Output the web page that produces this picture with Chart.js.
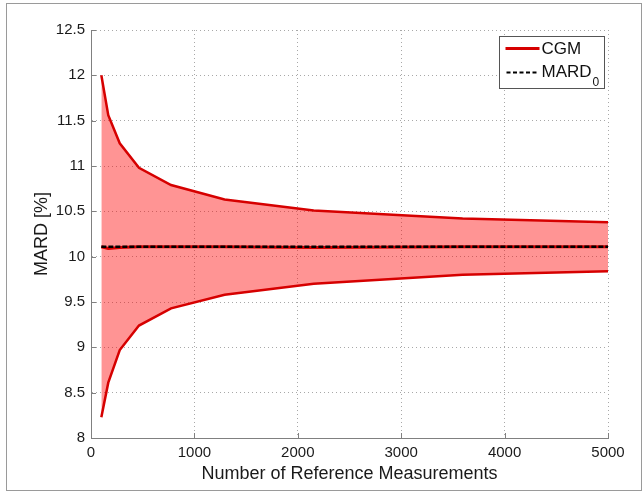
<!DOCTYPE html>
<html>
<head>
<meta charset="utf-8">
<style>
  html, body { margin: 0; padding: 0; background: #ffffff; }
  #wrap { width: 644px; height: 494px; position: relative; }
</style>
<script src="https://cdn.jsdelivr.net/npm/chart.js@4/dist/chart.umd.min.js"></script>
</head>
<body>
<div id="wrap"><canvas id="c" width="644" height="494"></canvas></div>
<script>
// Number of reference measurements at which MARD was evaluated
const nMeasurements = [100, 167, 278, 464, 774, 1292, 2154, 3594, 5000];
// Upper and lower bounds of the CGM MARD band [%]
const cgmUpper = [12.00, 11.56, 11.25, 10.98, 10.79, 10.63, 10.51, 10.42, 10.38];
const cgmLower = [8.23, 8.61, 8.97, 9.24, 9.43, 9.58, 9.70, 9.80, 9.84];
// Mean CGM MARD [%]
const cgmMean = [10.11, 10.09, 10.10, 10.11, 10.11, 10.11, 10.10, 10.11, 10.11];
// True MARD_0 [%]
const mard0 = [10.11, 10.11, 10.11, 10.11, 10.11, 10.11, 10.11, 10.11, 10.11];

// Axis ticks
const xTicks = [0, 1000, 2000, 3000, 4000, 5000];
const yTicks = [8, 8.5, 9, 9.5, 10, 10.5, 11, 11.5, 12, 12.5];

const FONT = '"Liberation Sans", Arial, Helvetica, sans-serif';
const RED = 'rgb(214,0,0)';
const BAND = 'rgba(255,0,0,0.42)';
const AXIS = '#808080';
const GRID = '#a8a8a8';

const pts = (ys) => nMeasurements.map((x, i) => ({ x: x, y: ys[i] }));

// Ticks drawn on the inside of the axes, plus the outer frame
const framePlugin = {
  id: 'frameAndTicks',
  afterDraw(chart) {
    const ctx = chart.ctx;
    const xs = chart.scales.x, ys = chart.scales.y;
    const area = chart.chartArea;
    ctx.save();
    ctx.strokeStyle = AXIS;
    ctx.lineWidth = 1;
    ctx.beginPath();
    xs.ticks.forEach(t => {
      const px = Math.round(xs.getPixelForValue(t.value)) + 0.5;
      ctx.moveTo(px, area.bottom);
      ctx.lineTo(px, area.bottom - 5);
    });
    ys.ticks.forEach(t => {
      const py = Math.round(ys.getPixelForValue(t.value)) + 0.5;
      ctx.moveTo(area.left, py);
      ctx.lineTo(area.left + 5, py);
    });
    ctx.stroke();
    // outer frame
    ctx.strokeStyle = '#9a9a9a';
    ctx.strokeRect(6.5, 3.5, 635, 487);
    ctx.restore();
  }
};

// Boxed legend in the upper right corner of the plot
const legendPlugin = {
  id: 'boxLegend',
  afterDraw(chart) {
    const ctx = chart.ctx;
    const area = chart.chartArea;
    const bx = Math.round(area.right) - 108.5, by = 36.5, bw = 105, bh = 52;
    ctx.save();
    ctx.fillStyle = '#ffffff';
    ctx.fillRect(bx, by, bw, bh);
    ctx.strokeStyle = '#555555';
    ctx.lineWidth = 1;
    ctx.strokeRect(bx, by, bw, bh);

    // CGM entry
    ctx.strokeStyle = RED;
    ctx.lineWidth = 3;
    ctx.beginPath();
    ctx.moveTo(bx + 6, by + 12);
    ctx.lineTo(bx + 40, by + 12);
    ctx.stroke();

    ctx.fillStyle = '#111111';
    ctx.font = '17px ' + FONT;
    ctx.textBaseline = 'middle';
    ctx.textAlign = 'left';
    ctx.fillText('CGM', bx + 42, by + 13);

    // MARD0 entry
    ctx.strokeStyle = '#000000';
    ctx.lineWidth = 2;
    ctx.setLineDash([4, 2.5]);
    ctx.beginPath();
    ctx.moveTo(bx + 7, by + 36);
    ctx.lineTo(bx + 39, by + 36);
    ctx.stroke();
    ctx.setLineDash([]);

    ctx.fillText('MARD', bx + 42, by + 36);
    const w = ctx.measureText('MARD').width;
    ctx.font = '12px ' + FONT;
    ctx.fillText('0', bx + 43 + w, by + 46);
    ctx.restore();
  }
};

new Chart(document.getElementById('c'), {
  type: 'line',
  data: {
    datasets: [
      {
        label: 'CGM upper',
        data: pts(cgmUpper),
        borderColor: RED,
        borderWidth: 2.5,
        backgroundColor: BAND,
        fill: '+1',
        pointRadius: 0,
        tension: 0,
        order: 3
      },
      {
        label: 'CGM lower',
        data: pts(cgmLower),
        borderColor: RED,
        borderWidth: 2.5,
        fill: false,
        pointRadius: 0,
        tension: 0,
        order: 2
      },
      {
        label: 'CGM',
        data: pts(cgmMean),
        borderColor: RED,
        borderWidth: 3,
        fill: false,
        pointRadius: 0,
        tension: 0,
        order: 1
      },
      {
        label: 'MARD0',
        data: pts(mard0),
        borderColor: '#000000',
        borderWidth: 2.5,
        borderDash: [5, 2],
        fill: false,
        pointRadius: 0,
        tension: 0,
        order: 0
      }
    ]
  },
  options: {
    responsive: false,
    animation: false,
    devicePixelRatio: 1,
    layout: { padding: { top: 30, right: 36, left: 0, bottom: 0 } },
    plugins: {
      legend: { display: false },
      tooltip: { enabled: false },
      filler: { propagate: false }
    },
    scales: {
      x: {
        type: 'linear',
        min: 0,
        max: 5000,
        afterBuildTicks: (s) => { s.ticks = xTicks.map(v => ({ value: v })); },
        afterFit: (s) => { s.height = 56; },
        ticks: {
          padding: 6,
          color: '#1a1a1a',
          font: { family: FONT, size: 15 },
          maxRotation: 0,
          callback: (v) => String(v)
        },
        grid: {
          color: GRID,
          lineWidth: 1,
          drawTicks: false
        },
        border: { display: true, color: AXIS, width: 1, dash: [1, 3] },
        title: {
          display: true,
          text: 'Number of Reference Measurements',
          color: '#1a1a1a',
          font: { family: FONT, size: 18 },
          padding: { top: 9, bottom: 9 }
        }
      },
      y: {
        min: 8,
        max: 12.5,
        afterBuildTicks: (s) => { s.ticks = yTicks.map(v => ({ value: v })); },
        afterFit: (s) => { s.width = 91; },
        ticks: {
          padding: 6,
          color: '#1a1a1a',
          font: { family: FONT, size: 15 },
          callback: (v) => String(v)
        },
        grid: {
          color: GRID,
          lineWidth: 1,
          drawTicks: false
        },
        border: { display: true, color: AXIS, width: 1, dash: [1, 3] },
        title: {
          display: true,
          text: 'MARD [%]',
          color: '#1a1a1a',
          font: { family: FONT, size: 18 },
          padding: { top: 31, bottom: 0 }
        }
      }
    }
  },
  plugins: [framePlugin, legendPlugin]
});
</script>
</body>
</html>
